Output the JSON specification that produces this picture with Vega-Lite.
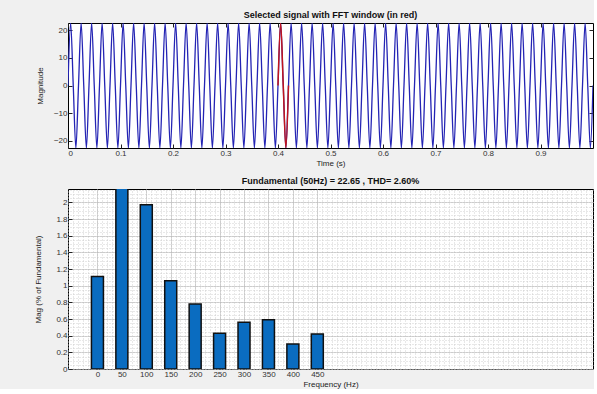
{
  "$schema": "https://vega.github.io/schema/vega-lite/v6.json",
  "background": "#f0f0f0",
  "padding": {"left": 34, "top": 10, "right": 0, "bottom": 0},
  "spacing": 8,
  "config": {
    "font": "Liberation Sans",
    "view": {"fill": "white", "stroke": "black", "strokeWidth": 1},
    "axis": {"domain": false, "labelFontSize": 8, "labelColor": "#333333", "titleFontSize": 8, "titleFontWeight": "normal", "titleColor": "#222222", "tickColor": "#222222", "tickSize": -4, "labelPadding": 5, "grid": false},
    "title": {"fontSize": 9, "fontWeight": "bold", "color": "#111111", "offset": 3}
  },
  "datasets": {
    "signal": [
      {"t":0,"v":0},{"t":0.005,"v":22.65},{"t":0.01,"v":0},{"t":0.015,"v":-22.65},
      {"t":0.02,"v":0},{"t":0.025,"v":22.65},{"t":0.03,"v":0},{"t":0.035,"v":-22.65},
      {"t":0.04,"v":0},{"t":0.045,"v":22.65},{"t":0.05,"v":0},{"t":0.055,"v":-22.65},
      {"t":0.06,"v":0},{"t":0.065,"v":22.65},{"t":0.07,"v":0},{"t":0.075,"v":-22.65},
      {"t":0.08,"v":0},{"t":0.085,"v":22.65},{"t":0.09,"v":0},{"t":0.095,"v":-22.65},
      {"t":0.1,"v":0},{"t":0.105,"v":22.65},{"t":0.11,"v":0},{"t":0.115,"v":-22.65},
      {"t":0.12,"v":0},{"t":0.125,"v":22.65},{"t":0.13,"v":0},{"t":0.135,"v":-22.65},
      {"t":0.14,"v":0},{"t":0.145,"v":22.65},{"t":0.15,"v":0},{"t":0.155,"v":-22.65},
      {"t":0.16,"v":0},{"t":0.165,"v":22.65},{"t":0.17,"v":0},{"t":0.175,"v":-22.65},
      {"t":0.18,"v":0},{"t":0.185,"v":22.65},{"t":0.19,"v":0},{"t":0.195,"v":-22.65},
      {"t":0.2,"v":0},{"t":0.205,"v":22.65},{"t":0.21,"v":0},{"t":0.215,"v":-22.65},
      {"t":0.22,"v":0},{"t":0.225,"v":22.65},{"t":0.23,"v":0},{"t":0.235,"v":-22.65},
      {"t":0.24,"v":0},{"t":0.245,"v":22.65},{"t":0.25,"v":0},{"t":0.255,"v":-22.65},
      {"t":0.26,"v":0},{"t":0.265,"v":22.65},{"t":0.27,"v":0},{"t":0.275,"v":-22.65},
      {"t":0.28,"v":0},{"t":0.285,"v":22.65},{"t":0.29,"v":0},{"t":0.295,"v":-22.65},
      {"t":0.3,"v":0},{"t":0.305,"v":22.65},{"t":0.31,"v":0},{"t":0.315,"v":-22.65},
      {"t":0.32,"v":0},{"t":0.325,"v":22.65},{"t":0.33,"v":0},{"t":0.335,"v":-22.65},
      {"t":0.34,"v":0},{"t":0.345,"v":22.65},{"t":0.35,"v":0},{"t":0.355,"v":-22.65},
      {"t":0.36,"v":0},{"t":0.365,"v":22.65},{"t":0.37,"v":0},{"t":0.375,"v":-22.65},
      {"t":0.38,"v":0},{"t":0.385,"v":22.65},{"t":0.39,"v":0},{"t":0.395,"v":-22.65},
      {"t":0.4,"v":0},{"t":0.405,"v":22.65},{"t":0.41,"v":0},{"t":0.415,"v":-22.65},
      {"t":0.42,"v":0},{"t":0.425,"v":22.65},{"t":0.43,"v":0},{"t":0.435,"v":-22.65},
      {"t":0.44,"v":0},{"t":0.445,"v":22.65},{"t":0.45,"v":0},{"t":0.455,"v":-22.65},
      {"t":0.46,"v":0},{"t":0.465,"v":22.65},{"t":0.47,"v":0},{"t":0.475,"v":-22.65},
      {"t":0.48,"v":0},{"t":0.485,"v":22.65},{"t":0.49,"v":0},{"t":0.495,"v":-22.65},
      {"t":0.5,"v":0},{"t":0.505,"v":22.65},{"t":0.51,"v":0},{"t":0.515,"v":-22.65},
      {"t":0.52,"v":0},{"t":0.525,"v":22.65},{"t":0.53,"v":0},{"t":0.535,"v":-22.65},
      {"t":0.54,"v":0},{"t":0.545,"v":22.65},{"t":0.55,"v":0},{"t":0.555,"v":-22.65},
      {"t":0.56,"v":0},{"t":0.565,"v":22.65},{"t":0.57,"v":0},{"t":0.575,"v":-22.65},
      {"t":0.58,"v":0},{"t":0.585,"v":22.65},{"t":0.59,"v":0},{"t":0.595,"v":-22.65},
      {"t":0.6,"v":0},{"t":0.605,"v":22.65},{"t":0.61,"v":0},{"t":0.615,"v":-22.65},
      {"t":0.62,"v":0},{"t":0.625,"v":22.65},{"t":0.63,"v":0},{"t":0.635,"v":-22.65},
      {"t":0.64,"v":0},{"t":0.645,"v":22.65},{"t":0.65,"v":0},{"t":0.655,"v":-22.65},
      {"t":0.66,"v":0},{"t":0.665,"v":22.65},{"t":0.67,"v":0},{"t":0.675,"v":-22.65},
      {"t":0.68,"v":0},{"t":0.685,"v":22.65},{"t":0.69,"v":0},{"t":0.695,"v":-22.65},
      {"t":0.7,"v":0},{"t":0.705,"v":22.65},{"t":0.71,"v":0},{"t":0.715,"v":-22.65},
      {"t":0.72,"v":0},{"t":0.725,"v":22.65},{"t":0.73,"v":0},{"t":0.735,"v":-22.65},
      {"t":0.74,"v":0},{"t":0.745,"v":22.65},{"t":0.75,"v":0},{"t":0.755,"v":-22.65},
      {"t":0.76,"v":0},{"t":0.765,"v":22.65},{"t":0.77,"v":0},{"t":0.775,"v":-22.65},
      {"t":0.78,"v":0},{"t":0.785,"v":22.65},{"t":0.79,"v":0},{"t":0.795,"v":-22.65},
      {"t":0.8,"v":0},{"t":0.805,"v":22.65},{"t":0.81,"v":0},{"t":0.815,"v":-22.65},
      {"t":0.82,"v":0},{"t":0.825,"v":22.65},{"t":0.83,"v":0},{"t":0.835,"v":-22.65},
      {"t":0.84,"v":0},{"t":0.845,"v":22.65},{"t":0.85,"v":0},{"t":0.855,"v":-22.65},
      {"t":0.86,"v":0},{"t":0.865,"v":22.65},{"t":0.87,"v":0},{"t":0.875,"v":-22.65},
      {"t":0.88,"v":0},{"t":0.885,"v":22.65},{"t":0.89,"v":0},{"t":0.895,"v":-22.65},
      {"t":0.9,"v":0},{"t":0.905,"v":22.65},{"t":0.91,"v":0},{"t":0.915,"v":-22.65},
      {"t":0.92,"v":0},{"t":0.925,"v":22.65},{"t":0.93,"v":0},{"t":0.935,"v":-22.65},
      {"t":0.94,"v":0},{"t":0.945,"v":22.65},{"t":0.95,"v":0},{"t":0.955,"v":-22.65},
      {"t":0.96,"v":0},{"t":0.965,"v":22.65},{"t":0.97,"v":0},{"t":0.975,"v":-22.65},
      {"t":0.98,"v":0},{"t":0.985,"v":22.65},{"t":0.99,"v":0},{"t":0.995,"v":-22.65},
      {"t":1,"v":0}
    ],
    "window": [
      {"t":0.4,"v":0},{"t":0.405,"v":22.65},{"t":0.41,"v":0},{"t":0.415,"v":-22.65},{"t":0.42,"v":0}
    ],
    "harmonics": [
      {"f":0,"mag":1.11},{"f":50,"mag":100},{"f":100,"mag":1.97},{"f":150,"mag":1.06},
      {"f":200,"mag":0.78},{"f":250,"mag":0.43},{"f":300,"mag":0.56},{"f":350,"mag":0.59},
      {"f":400,"mag":0.30},{"f":450,"mag":0.42}
    ]
  },
  "vconcat": [
    {
      "width": 525,
      "height": 125,
      "title": {"text": "Selected signal with FFT window (in red)"},
      "layer": [
        {
          "data": {"name": "signal"},
          "mark": {"type": "line", "interpolate": "monotone", "color": "#2424b4", "strokeWidth": 1.3, "clip": true},
          "encoding": {
            "x": {"field": "t", "type": "quantitative", "scale": {"domain": [0, 1], "nice": false, "zero": false},
                  "axis": {"orient": "bottom", "title": "Time (s)", "values": [0,0.1,0.2,0.3,0.4,0.5,0.6,0.7,0.8,0.9], "format": "~g", "titlePadding": 2}},
            "y": {"field": "v", "type": "quantitative", "scale": {"domain": [-22.65, 22.65], "nice": false, "zero": false},
                  "axis": {"orient": "left", "title": "Magnitude", "values": [-20,-10,0,10,20], "titlePadding": 9}}
          }
        },
        {
          "data": {"name": "window"},
          "mark": {"type": "line", "interpolate": "monotone", "color": "#c0141e", "strokeWidth": 1.5, "clip": true},
          "encoding": {
            "x": {"field": "t", "type": "quantitative",
                  "axis": {"orient": "top", "title": null, "labels": false, "values": [0,0.1,0.2,0.3,0.4,0.5,0.6,0.7,0.8,0.9]}},
            "y": {"field": "v", "type": "quantitative",
                  "axis": {"orient": "right", "title": null, "labels": false, "values": [-20,-10,0,10,20]}}
          }
        }
      ],
      "resolve": {"axis": {"x": "independent", "y": "independent"}}
    },
    {
      "width": 525,
      "height": 180,
      "title": {"text": "Fundamental (50Hz) = 22.65 , THD= 2.60%"},
      "data": {"name": "harmonics"},
      "layer": [
        {
          "mark": {"type": "bar", "opacity": 0, "size": 1, "clip": true},
          "encoding": {
            "x": {"field": "f", "type": "quantitative", "scale": {"domain": [-50, 1004], "nice": false, "zero": false},
                  "axis": {"orient": "top", "title": null, "labels": false, "ticks": false, "grid": true, "tickCount": 105, "gridColor": "#c4c4c4", "gridDash": [1, 2], "gridWidth": 0.8}},
            "y": {"field": "mag", "type": "quantitative", "scale": {"domain": [0, 2.16], "nice": false, "zero": true},
                  "axis": {"orient": "right", "title": null, "labels": false, "ticks": true, "grid": true, "tickCount": 43, "gridColor": "#c4c4c4", "gridDash": [1, 2], "gridWidth": 0.8, "tickSize": 0}}
          }
        },
        {
          "mark": {"type": "bar", "size": 12, "color": "#0a6cc0", "stroke": "#101010", "strokeWidth": 1.5, "clip": true},
          "encoding": {
            "x": {"field": "f", "type": "quantitative",
                  "axis": {"orient": "bottom", "title": "Frequency (Hz)", "values": [0,50,100,150,200,250,300,350,400,450], "grid": true, "gridColor": "#b0b0b0", "gridDash": [1, 1], "titlePadding": 2}},
            "y": {"field": "mag", "type": "quantitative",
                  "axis": {"orient": "left", "title": "Mag (% of Fundamental)", "values": [0,0.2,0.4,0.6,0.8,1,1.2,1.4,1.6,1.8,2], "format": "~g", "grid": true, "gridColor": "#b0b0b0", "gridDash": [1, 1], "titlePadding": 13}}
          }
        }
      ],
      "resolve": {"axis": {"x": "independent", "y": "independent"}}
    }
  ]
}
